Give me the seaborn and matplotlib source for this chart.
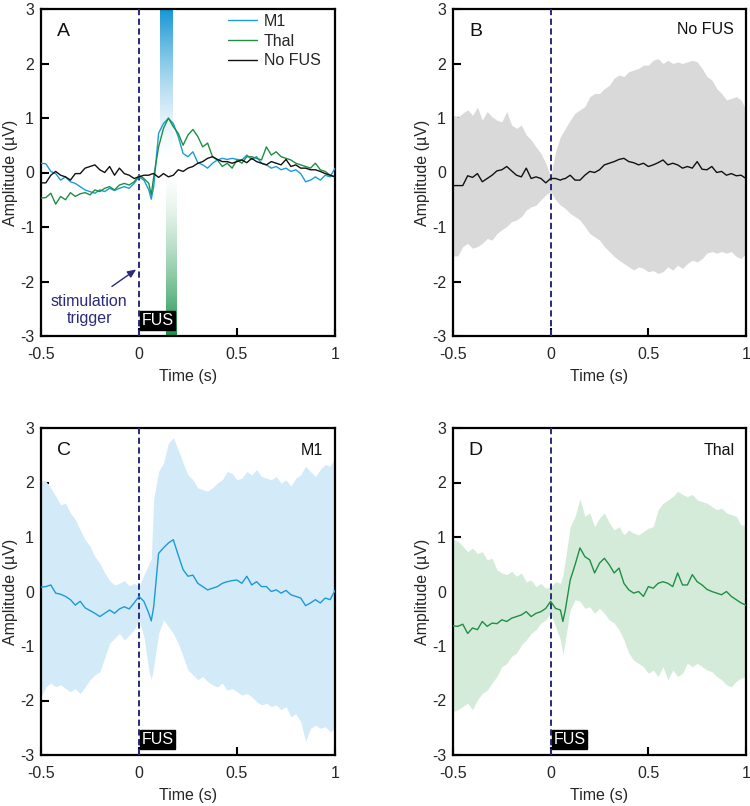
import numpy as np
import pandas as pd
import matplotlib
matplotlib.use("Agg")
import matplotlib.pyplot as plt
import seaborn as sns
from matplotlib.lines import Line2D

# ---------------- data ----------------
time_s = np.concatenate([np.round(np.arange(-0.5, 0.0001, 0.025), 4),
                         [0.025, 0.05, 0.0625, 0.075],
                         np.round(np.arange(0.1, 1.0001, 0.025), 4)])

a_m1 = [0.17, 0.16, 0.02, -0.02, -0.14, -0.08, -0.17, -0.2, -0.26, -0.32, -0.35, -0.38, -0.32, -0.35, -0.29, -0.33, -0.29, -0.26, -0.29, -0.2, -0.08,
        -0.14, -0.32, -0.49, -0.26,
        0.72, 0.9, 0.99, 0.9, 0.66, 0.35, 0.29, 0.38, 0.18, 0.14, 0.08, 0.17, 0.23, 0.26, 0.24, 0.26, 0.24, 0.23, 0.32, 0.24, 0.29, 0.17, 0.14, 0.08, 0.11, 0.05, 0.08, 0.02, 0.05, -0.02, -0.17, -0.14, -0.08, -0.14, -0.05, -0.08, 0.08]
a_thal = [-0.47, -0.46, -0.38, -0.58, -0.44, -0.5, -0.37, -0.44, -0.39, -0.37, -0.41, -0.32, -0.35, -0.29, -0.26, -0.32, -0.23, -0.2, -0.23, -0.17, -0.05,
          -0.11, -0.2, -0.41, -0.08,
          0.47, 0.81, 1.0, 0.84, 0.72, 0.5, 0.69, 0.79, 0.66, 0.47, 0.54, 0.29, 0.23, 0.11, 0.17, 0.08, 0.23, 0.17, 0.29, 0.29, 0.26, 0.23, 0.47, 0.32, 0.38, 0.29, 0.26, 0.23, 0.17, 0.14, 0.11, 0.08, 0.17, 0.05, 0.02, -0.05, -0.08]
a_nofus = [-0.19, -0.19, -0.05, 0.02, -0.05, -0.08, -0.14, -0.02, -0.02, 0.08, 0.11, 0.14, 0.05, 0.0, 0.11, -0.05, 0.08, -0.02, -0.05, -0.11, -0.08,
           -0.05, -0.05, -0.03, -0.02,
           -0.09, -0.02, -0.08, -0.05, 0.05, 0.02, 0.08, 0.11, 0.17, 0.2, 0.26, 0.29, 0.24, 0.2, 0.2, 0.17, 0.2, 0.23, 0.18, 0.26, 0.2, 0.17, 0.14, 0.2, 0.17, 0.14, 0.24, 0.11, 0.14, 0.08, 0.08, 0.05, 0.05, 0.02, -0.02, -0.05, -0.08]

b_mean = [-0.24, -0.24, -0.24, -0.06, -0.09, -0.02, -0.17, -0.11, -0.05, 0.03, 0.05, 0.11, 0.03, -0.05, -0.08, 0.08, -0.11, -0.08, -0.11, -0.19, -0.11,
          -0.11, -0.14, -0.12, -0.11,
          -0.05, -0.14, -0.14, -0.05, 0.02, 0.0, 0.05, 0.14, 0.17, 0.2, 0.24, 0.26, 0.2, 0.18, 0.14, 0.17, 0.11, 0.14, 0.18, 0.23, 0.14, 0.17, 0.14, 0.08, 0.11, 0.08, 0.2, 0.06, 0.05, 0.11, 0.0, 0.02, -0.05, -0.02, -0.06, -0.05, -0.11]
b_upper = [1.05, 1.02, 1.09, 1.15, 1.05, 1.2, 0.96, 1.12, 1.02, 0.96, 0.93, 1.12, 0.87, 0.81, 0.87, 0.69, 0.6, 0.47, 0.35, 0.17, -0.08,
           0.38, 0.66, 0.73, 0.81,
           0.96, 1.09, 1.15, 1.21, 1.39, 1.45, 1.45, 1.54, 1.6, 1.73, 1.79, 1.76, 1.85, 1.88, 1.91, 1.97, 1.97, 2.06, 2.09, 2.0, 2.06, 2.0, 2.03, 2.0, 2.03, 2.06, 2.03, 1.91, 1.76, 1.7, 1.54, 1.45, 1.33, 1.36, 1.39, 1.33, 1.15]
b_lower = [-1.53, -1.53, -1.36, -1.3, -1.39, -1.36, -1.3, -1.21, -1.24, -1.12, -1.05, -0.99, -0.9, -0.87, -0.81, -0.69, -0.63, -0.6, -0.5, -0.41, -0.35,
           -0.5, -0.6, -0.63, -0.66,
           -0.75, -0.81, -0.87, -0.99, -1.12, -1.18, -1.24, -1.36, -1.45, -1.54, -1.61, -1.67, -1.73, -1.79, -1.73, -1.76, -1.82, -1.8, -1.85, -1.82, -1.73, -1.79, -1.7, -1.76, -1.67, -1.61, -1.64, -1.58, -1.48, -1.45, -1.48, -1.45, -1.48, -1.45, -1.54, -1.58, -1.48]

c_mean = [0.08, 0.09, 0.12, -0.03, -0.05, -0.09, -0.15, -0.25, -0.18, -0.3, -0.35, -0.4, -0.46, -0.4, -0.34, -0.4, -0.32, -0.28, -0.32, -0.21, -0.09,
          -0.18, -0.4, -0.54, -0.28,
          0.7, 0.8, 0.89, 0.95, 0.67, 0.4, 0.28, 0.3, 0.15, 0.09, 0.03, 0.06, 0.09, 0.15, 0.18, 0.2, 0.21, 0.15, 0.28, 0.12, 0.18, 0.09, 0.09, 0.0, 0.03, -0.03, 0.02, -0.06, -0.09, -0.12, -0.26, -0.21, -0.15, -0.21, -0.12, -0.15, 0.02]
c_upper = [2.05, 2.02, 1.9, 1.75, 1.59, 1.62, 1.44, 1.32, 1.13, 0.95, 0.83, 0.64, 0.52, 0.34, 0.2, 0.12, 0.15, 0.2, 0.1, 0.15, 0.1,
           0.3, 0.5, 0.6, 1.7,
           2.2, 2.36, 2.72, 2.82, 2.6, 2.36, 2.14, 2.05, 1.9, 1.87, 1.84, 1.9, 1.99, 2.05, 2.2, 2.17, 2.05, 2.08, 2.2, 2.14, 2.24, 2.11, 2.08, 2.05, 2.11, 1.99, 2.05, 1.93, 2.08, 2.14, 2.3, 2.2, 2.11, 2.24, 2.33, 2.3, 2.45]
c_lower = [-1.93, -1.75, -1.68, -1.75, -1.71, -1.78, -1.84, -1.78, -1.87, -1.75, -1.62, -1.53, -1.47, -1.22, -0.95, -0.86, -0.77, -0.89, -0.8, -0.7, -0.52,
           -0.83, -1.44, -1.62, -1.38,
           -0.77, -0.52, -0.64, -0.77, -0.95, -1.19, -1.44, -1.53, -1.62, -1.56, -1.65, -1.71, -1.75, -1.68, -1.81, -1.78, -1.84, -1.9, -1.87, -1.93, -2.02, -2.08, -2.05, -2.11, -2.08, -2.17, -2.11, -2.3, -2.24, -2.39, -2.75, -2.51, -2.45, -2.51, -2.48, -2.57, -2.51]

d_mean = [-0.63, -0.64, -0.6, -0.77, -0.67, -0.7, -0.55, -0.64, -0.58, -0.59, -0.52, -0.55, -0.49, -0.46, -0.43, -0.37, -0.46, -0.4, -0.37, -0.31, -0.18,
          -0.31, -0.34, -0.55, -0.34,
          0.21, 0.49, 0.8, 0.64, 0.58, 0.34, 0.52, 0.61, 0.49, 0.34, 0.43, 0.15, 0.03, -0.03, 0.0, -0.09, 0.09, 0.06, 0.15, 0.18, 0.15, 0.09, 0.34, 0.12, 0.12, 0.31, 0.18, 0.12, 0.04, 0.0, -0.03, -0.06, 0.0, -0.09, -0.15, -0.21, -0.25]
d_upper = [0.95, 0.92, 0.83, 0.73, 0.8, 0.7, 0.73, 0.58, 0.61, 0.4, 0.34, 0.31, 0.37, 0.28, 0.34, 0.18, 0.21, 0.09, 0.15, 0.06, 0.09,
           0.18, 0.15, 0.3, 0.58,
           1.19, 1.38, 1.7, 1.38, 1.44, 1.19, 1.35, 1.44, 1.26, 1.13, 1.19, 1.04, 1.13, 1.07, 1.04, 1.1, 1.16, 1.19, 1.5, 1.62, 1.68, 1.74, 1.84, 1.78, 1.74, 1.78, 1.68, 1.65, 1.62, 1.56, 1.5, 1.53, 1.44, 1.41, 1.38, 1.22, 1.22]
d_lower = [-2.2, -2.17, -2.11, -2.05, -2.17, -1.99, -1.87, -1.81, -1.68, -1.56, -1.38, -1.32, -1.19, -1.13, -0.98, -0.89, -0.77, -0.7, -0.58, -0.52, -0.4,
           -0.64, -0.89, -1.16, -0.89,
           -0.34, -0.15, -0.18, -0.31, -0.28, -0.4, -0.31, -0.4, -0.52, -0.58, -0.7, -0.89, -1.13, -1.26, -1.32, -1.38, -1.5, -1.44, -1.56, -1.38, -1.62, -1.44, -1.56, -1.5, -1.32, -1.38, -1.32, -1.38, -1.44, -1.47, -1.56, -1.62, -1.71, -1.75, -1.65, -1.59, -1.56]

x_ticks = [-0.5, 0, 0.5, 1]
x_ticklabels = ["-0.5", "0", "0.5", "1"]
y_ticks = [-3, -2, -1, 0, 1, 2, 3]
y_ticklabels = ["-3", "-2", "-1", "0", "1", "2", "3"]

# ---------------- style ----------------
sns.set_style("ticks")
plt.rcParams["font.family"] = ["Liberation Sans", "DejaVu Sans"]

BLUE = "#1b9bd7"
GREEN = "#1f8f45"
BLACK = "#111111"
TRIG = "#2b2a7c"
FS = 11.5

fig = plt.figure(figsize=(7.5, 8.06), dpi=100)
W, H = 750, 806


def make_ax(l, r, t, b):
    return fig.add_axes([l / W, 1 - b / H, (r - l) / W, (b - t) / H])


axA = make_ax(41, 335, 9, 336)
axB = make_ax(453, 746, 9, 336)
axC = make_ax(41, 335, 428, 755)
axD = make_ax(453, 746, 428, 755)


def style(ax):
    ax.set_xlim(-0.5, 1.0)
    ax.set_ylim(-3, 3)
    ax.set_xticks(x_ticks)
    ax.set_xticklabels(x_ticklabels)
    ax.set_yticks(y_ticks)
    ax.set_yticklabels(y_ticklabels)
    ax.tick_params(direction="in", length=6, width=1.5, labelsize=FS,
                   top=False, right=False, color="black")
    ax.tick_params(axis="x", pad=8)
    ax.tick_params(axis="y", pad=5)
    for s in ax.spines.values():
        s.set_visible(True)
        s.set_linewidth(1.6)
        s.set_color("black")
    ax.set_xlabel("Time (s)", fontsize=FS, labelpad=5)
    ax.set_ylabel("Amplitude (µV)", fontsize=FS, labelpad=1)


def trigger(ax):
    ax.axvline(0, color=TRIG, lw=1.4, ls=(0, (3.2, 1.8)), zorder=3)


def fus_box(ax):
    ax.text(0.014, -2.715, "FUS", color="white", fontsize=FS, ha="left", va="center",
            zorder=6, bbox=dict(boxstyle="square,pad=0.1", facecolor="black", edgecolor="black"))


def panel_letter(ax, letter):
    ax.text(-0.385, 2.58, letter, fontsize=14, ha="center", va="center", color=BLACK)


# ---------------- panel A ----------------
df_a = pd.DataFrame({"t": np.tile(time_s, 3),
                     "amp": a_m1 + a_thal + a_nofus,
                     "cond": ["M1"] * len(time_s) + ["Thal"] * len(time_s) + ["No FUS"] * len(time_s)})

# gradient bars
n = 256
blue_img = np.zeros((n, 1, 4))
blue_img[..., 0:3] = matplotlib.colors.to_rgb("#1596d4")
blue_img[:, 0, 3] = np.linspace(1, 0, n) ** 1.6
axA.imshow(blue_img, extent=(0.105, 0.168, 0.2, 3.0), aspect="auto", origin="upper", zorder=1)
green_img = np.zeros((n, 1, 4))
green_img[..., 0:3] = matplotlib.colors.to_rgb("#16934a")
green_img[:, 0, 3] = np.linspace(0, 1, n) ** 1.6
axA.imshow(green_img, extent=(0.138, 0.19, -3.0, 0.1), aspect="auto", origin="upper", zorder=1)

sns.lineplot(data=df_a, x="t", y="amp", hue="cond", hue_order=["M1", "Thal", "No FUS"],
             palette={"M1": BLUE, "Thal": GREEN, "No FUS": BLACK}, lw=1.0, ax=axA,
             legend=False, zorder=4)
trigger(axA)
style(axA)
fus_box(axA)
panel_letter(axA, "A")
handles = [Line2D([], [], color=BLUE, lw=1.0), Line2D([], [], color=GREEN, lw=1.0),
           Line2D([], [], color=BLACK, lw=1.0)]
axA.legend(handles, ["M1", "Thal", "No FUS"], loc="upper left", bbox_to_anchor=(0.635, 0.985),
           frameon=False, fontsize=FS, handlelength=1.85, handletextpad=0.4,
           labelspacing=0.3, borderaxespad=0, borderpad=0)
axA.annotate("", xy=(-0.003, -1.75), xytext=(-0.15, -2.12),
             arrowprops=dict(arrowstyle="-|>,head_length=0.5,head_width=0.22", color=TRIG, lw=1.0),
             zorder=5)
axA.text(-0.255, -2.52, "stimulation\ntrigger", color=TRIG, fontsize=FS, ha="center",
         va="center", linespacing=1.15)

# ---------------- panel B ----------------
axB.fill_between(time_s, b_lower, b_upper, color="#d9d9d9", lw=0, zorder=1)
trigger(axB)
sns.lineplot(x=time_s, y=b_mean, color=BLACK, lw=1.0, ax=axB, zorder=4)
style(axB)
panel_letter(axB, "B")
axB.text(0.94, 2.62, "No FUS", fontsize=FS, ha="right", va="center", color=BLACK)

# ---------------- panel C ----------------
axC.fill_between(time_s, c_lower, c_upper, color="#d3eaf8", lw=0, zorder=1)
trigger(axC)
sns.lineplot(x=time_s, y=c_mean, color=BLUE, lw=1.0, ax=axC, zorder=4)
style(axC)
fus_box(axC)
panel_letter(axC, "C")
axC.text(0.94, 2.58, "M1", fontsize=FS, ha="right", va="center", color=BLACK)

# ---------------- panel D ----------------
axD.fill_between(time_s, d_lower, d_upper, color="#d5ebd9", lw=0, zorder=1)
trigger(axD)
sns.lineplot(x=time_s, y=d_mean, color=GREEN, lw=1.0, ax=axD, zorder=4)
style(axD)
fus_box(axD)
panel_letter(axD, "D")
axD.text(0.94, 2.58, "Thal", fontsize=FS, ha="right", va="center", color=BLACK)

fig.savefig("out.png", dpi=100)
